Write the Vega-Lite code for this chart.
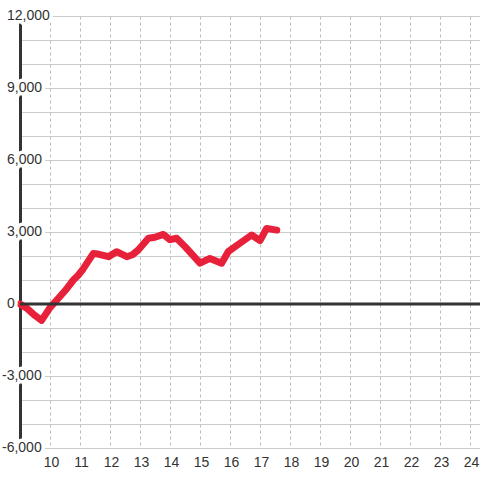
{
  "$schema": "https://vega.github.io/schema/vega-lite/v6.json",
  "width": 460,
  "height": 432,
  "autosize": "none",
  "padding": {"left": 20, "top": 16, "right": 0, "bottom": 32},
  "background": "white",
  "config": {
    "locale": {"number": {"decimal": ".", "thousands": ",", "grouping": [3], "currency": ["$", ""], "minus": "-"}},
    "view": {"stroke": null},
    "axis": {"title": null},
    "axisX": {
      "domain": false, "ticks": false, "tickSize": 0, "labelPadding": 7, "labelOffset": 1,
      "labelFont": "Liberation Sans", "labelFontSize": 14, "labelColor": "#333",
      "grid": true, "gridColor": "#bbbbbb", "gridDash": [3, 3], "gridWidth": 1
    },
    "axisY": {
      "labels": false, "domain": true, "domainColor": "#333", "domainWidth": 3,
      "ticks": false, "tickSize": 0,
      "grid": true, "gridColor": "#cccccc", "gridWidth": 1
    }
  },
  "layer": [
    {
      "data": {"values": [
        {"t": 9.0, "v": 0},
        {"t": 9.25, "v": -200},
        {"t": 9.5, "v": -480},
        {"t": 9.72, "v": -680},
        {"t": 10.0, "v": -150},
        {"t": 10.28, "v": 240},
        {"t": 10.5, "v": 550},
        {"t": 10.78, "v": 1000},
        {"t": 10.94, "v": 1200},
        {"t": 11.1, "v": 1450},
        {"t": 11.44, "v": 2100},
        {"t": 11.6, "v": 2080},
        {"t": 11.95, "v": 1970},
        {"t": 12.22, "v": 2180},
        {"t": 12.56, "v": 1970},
        {"t": 12.75, "v": 2050},
        {"t": 12.94, "v": 2250},
        {"t": 13.28, "v": 2740},
        {"t": 13.5, "v": 2780},
        {"t": 13.78, "v": 2900},
        {"t": 14.0, "v": 2680},
        {"t": 14.22, "v": 2740},
        {"t": 14.5, "v": 2390},
        {"t": 15.0, "v": 1700},
        {"t": 15.33, "v": 1900},
        {"t": 15.72, "v": 1700},
        {"t": 15.94, "v": 2180},
        {"t": 16.33, "v": 2530},
        {"t": 16.72, "v": 2875},
        {"t": 17.0, "v": 2640},
        {"t": 17.22, "v": 3150},
        {"t": 17.56, "v": 3080}
      ]},
      "mark": {"type": "line", "color": "#e8213a", "strokeWidth": 7, "strokeJoin": "round", "strokeCap": "round"},
      "encoding": {
        "x": {"field": "t", "type": "quantitative",
              "scale": {"domain": [9, 24.333], "nice": false, "zero": false},
              "axis": {"values": [10, 11, 12, 13, 14, 15, 16, 17, 18, 19, 20, 21, 22, 23, 24]}},
        "y": {"field": "v", "type": "quantitative",
              "scale": {"domain": [-6000, 12000], "nice": false},
              "axis": {"values": [-6000, -5000, -4000, -3000, -2000, -1000, 0, 1000, 2000, 3000, 4000, 5000, 6000, 7000, 8000, 9000, 10000, 11000, 12000]}}
      }
    },
    {
      "data": {"values": [{"z": 0}]},
      "mark": {"type": "rule", "color": "#333", "strokeWidth": 3},
      "encoding": {
        "y": {"field": "z", "type": "quantitative",
              "scale": {"domain": [-6000, 12000], "nice": false},
              "axis": {"values": [-6000, -5000, -4000, -3000, -2000, -1000, 0, 1000, 2000, 3000, 4000, 5000, 6000, 7000, 8000, 9000, 10000, 11000, 12000]}}
      }
    },
    {
      "data": {"values": [{"v": 0}, {"v": 3000}, {"v": 6000}, {"v": 9000}, {"v": 12000}]},
      "mark": {"type": "text", "font": "Liberation Sans", "fontSize": 14, "align": "left", "baseline": "middle",
               "fill": "white", "stroke": "white", "strokeWidth": 7, "strokeJoin": "round", "dx": -13},
      "encoding": {
        "x": {"datum": 9,
              "scale": {"domain": [9, 24.333], "nice": false, "zero": false},
              "axis": {"values": [10, 11, 12, 13, 14, 15, 16, 17, 18, 19, 20, 21, 22, 23, 24]}},
        "y": {"field": "v", "type": "quantitative",
              "scale": {"domain": [-6000, 12000], "nice": false},
              "axis": {"values": [-6000, -5000, -4000, -3000, -2000, -1000, 0, 1000, 2000, 3000, 4000, 5000, 6000, 7000, 8000, 9000, 10000, 11000, 12000]}},
        "text": {"field": "v", "type": "quantitative", "format": ","}
      }
    },
    {
      "data": {"values": [{"v": -6000}, {"v": -3000}]},
      "mark": {"type": "text", "font": "Liberation Sans", "fontSize": 14, "align": "left", "baseline": "middle",
               "fill": "white", "stroke": "white", "strokeWidth": 7, "strokeJoin": "round", "dx": -18},
      "encoding": {
        "x": {"datum": 9,
              "scale": {"domain": [9, 24.333], "nice": false, "zero": false},
              "axis": {"values": [10, 11, 12, 13, 14, 15, 16, 17, 18, 19, 20, 21, 22, 23, 24]}},
        "y": {"field": "v", "type": "quantitative",
              "scale": {"domain": [-6000, 12000], "nice": false},
              "axis": {"values": [-6000, -5000, -4000, -3000, -2000, -1000, 0, 1000, 2000, 3000, 4000, 5000, 6000, 7000, 8000, 9000, 10000, 11000, 12000]}},
        "text": {"field": "v", "type": "quantitative", "format": ","}
      }
    },
    {
      "data": {"values": [{"v": 0}, {"v": 3000}, {"v": 6000}, {"v": 9000}, {"v": 12000}]},
      "mark": {"type": "text", "font": "Liberation Sans", "fontSize": 14, "align": "left", "baseline": "middle",
               "color": "#333", "dx": -13},
      "encoding": {
        "x": {"datum": 9,
              "scale": {"domain": [9, 24.333], "nice": false, "zero": false},
              "axis": {"values": [10, 11, 12, 13, 14, 15, 16, 17, 18, 19, 20, 21, 22, 23, 24]}},
        "y": {"field": "v", "type": "quantitative",
              "scale": {"domain": [-6000, 12000], "nice": false},
              "axis": {"values": [-6000, -5000, -4000, -3000, -2000, -1000, 0, 1000, 2000, 3000, 4000, 5000, 6000, 7000, 8000, 9000, 10000, 11000, 12000]}},
        "text": {"field": "v", "type": "quantitative", "format": ","}
      }
    },
    {
      "data": {"values": [{"v": -6000}, {"v": -3000}]},
      "mark": {"type": "text", "font": "Liberation Sans", "fontSize": 14, "align": "left", "baseline": "middle",
               "color": "#333", "dx": -18},
      "encoding": {
        "x": {"datum": 9,
              "scale": {"domain": [9, 24.333], "nice": false, "zero": false},
              "axis": {"values": [10, 11, 12, 13, 14, 15, 16, 17, 18, 19, 20, 21, 22, 23, 24]}},
        "y": {"field": "v", "type": "quantitative",
              "scale": {"domain": [-6000, 12000], "nice": false},
              "axis": {"values": [-6000, -5000, -4000, -3000, -2000, -1000, 0, 1000, 2000, 3000, 4000, 5000, 6000, 7000, 8000, 9000, 10000, 11000, 12000]}},
        "text": {"field": "v", "type": "quantitative", "format": ","}
      }
    }
  ]
}
